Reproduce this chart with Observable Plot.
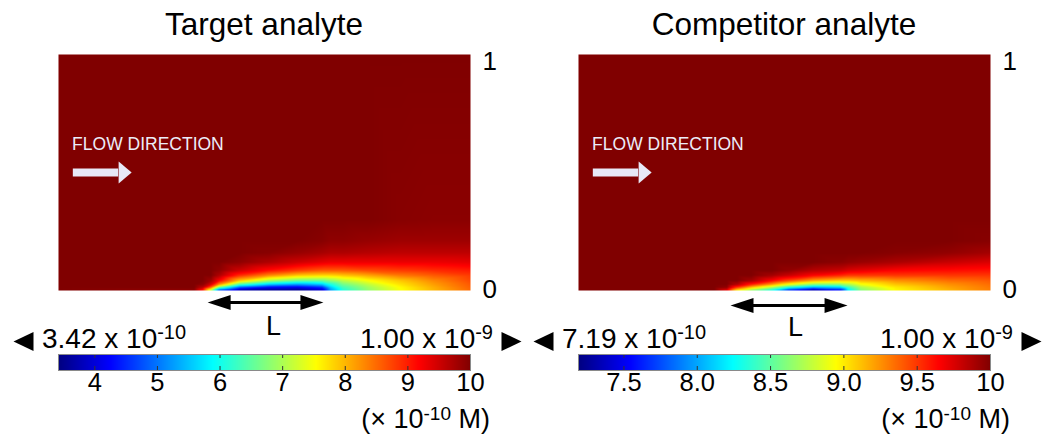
<!DOCTYPE html>
<html><head><meta charset="utf-8">
<script src="https://cdn.jsdelivr.net/npm/d3@7"></script>
<script src="https://cdn.jsdelivr.net/npm/@observablehq/plot@0.6"></script>
<style>
html,body{margin:0;padding:0;background:#fff;}
#chart{position:relative;width:1042px;height:436px;overflow:hidden;font-family:"Liberation Sans",Arial,sans-serif;color:#000;}
.abs{position:absolute;white-space:nowrap;line-height:1;}
.sup{position:relative;}
</style></head><body><div id="chart"></div>
<script>
// ---------- data (concentration, ×10^-10 M) ----------
const heights = [0, 0.013, 0.025, 0.042, 0.064, 0.085, 0.12, 0.16, 0.21, 0.30, 1.0];

const targetX = [0, 0.33, 0.35, 0.37, 0.39, 0.44, 0.51, 0.58, 0.64, 0.66, 0.69, 0.75, 0.83, 0.91, 1.0];
const targetConc = [
  [10, 9.9, 9.0, 7.0, 4.6, 3.6, 3.45, 3.45, 3.9, 5.2, 6.1, 6.8, 7.5, 8.0, 8.5],
  [10, 10, 9.6, 8.5, 6.5, 4.8, 4.2, 4.1, 4.5, 5.5, 6.3, 6.9, 7.55, 8.05, 8.55],
  [10, 10, 9.9, 9.4, 8.2, 6.3, 5.5, 5.2, 5.5, 6.0, 6.6, 7.1, 7.7, 8.15, 8.6],
  [10, 10, 10, 9.8, 9.2, 7.9, 7.0, 6.6, 6.6, 6.8, 7.1, 7.5, 7.9, 8.3, 8.7],
  [10, 10, 10, 10, 9.7, 8.9, 8.3, 7.9, 7.8, 7.8, 7.9, 8.1, 8.4, 8.6, 8.8],
  [10, 10, 10, 10, 9.9, 9.5, 9.1, 8.8, 8.6, 8.6, 8.6, 8.7, 8.8, 8.9, 9.0],
  [10, 10, 10, 10, 10, 9.9, 9.7, 9.5, 9.35, 9.3, 9.3, 9.3, 9.3, 9.3, 9.35],
  [10, 10, 10, 10, 10, 10, 9.95, 9.85, 9.75, 9.7, 9.7, 9.65, 9.6, 9.6, 9.6],
  [10, 10, 10, 10, 10, 10, 10, 10, 9.95, 9.9, 9.9, 9.85, 9.8, 9.8, 9.8],
  [10, 10, 10, 10, 10, 10, 10, 10, 10, 10, 10, 10, 9.95, 9.93, 9.93],
  [10, 10, 10, 10, 10, 10, 10, 10, 10, 10, 10, 10, 10, 10, 10]
];

const competitorX = [0, 0.33, 0.36, 0.385, 0.42, 0.47, 0.51, 0.57, 0.635, 0.655, 0.685, 0.77, 0.9, 1.0];
const competitorConc = [
  [10, 10, 9.7, 8.95, 8.6, 8.25, 7.6, 7.2, 7.5, 8.2, 8.6, 8.95, 9.15, 9.3],
  [10, 10, 9.95, 9.5, 9.1, 8.7, 8.3, 8.0, 8.1, 8.4, 8.7, 9.0, 9.2, 9.32],
  [10, 10, 10, 9.85, 9.55, 9.2, 8.9, 8.6, 8.6, 8.7, 8.9, 9.1, 9.25, 9.35],
  [10, 10, 10, 10, 9.9, 9.65, 9.45, 9.2, 9.1, 9.1, 9.15, 9.25, 9.35, 9.4],
  [10, 10, 10, 10, 10, 9.9, 9.8, 9.65, 9.55, 9.5, 9.5, 9.5, 9.5, 9.5],
  [10, 10, 10, 10, 10, 10, 9.95, 9.85, 9.8, 9.75, 9.72, 9.65, 9.62, 9.6],
  [10, 10, 10, 10, 10, 10, 10, 10, 9.97, 9.95, 9.93, 9.88, 9.8, 9.75],
  [10, 10, 10, 10, 10, 10, 10, 10, 10, 10, 10, 9.98, 9.95, 9.9],
  [10, 10, 10, 10, 10, 10, 10, 10, 10, 10, 10, 10, 10, 9.98],
  [10, 10, 10, 10, 10, 10, 10, 10, 10, 10, 10, 10, 10, 10],
  [10, 10, 10, 10, 10, 10, 10, 10, 10, 10, 10, 10, 10, 10]
];

const titles = ["Target analyte", "Competitor analyte"];
const colorRanges = [[3.42, 10], [7.19, 10]];
const minLabels = [["3.42 x 10", "-10"], ["7.19 x 10", "-10"]];
const maxLabels = [["1.00 x 10", "-9"], ["1.00 x 10", "-9"]];
const unitLabel = ["(× 10", "-10", " M)"];
const targetTicks = [4, 5, 6, 7, 8, 9, 10];
const targetTickLabels = ["4", "5", "6", "7", "8", "9", "10"];
const competitorTicks = [7.5, 8, 8.5, 9, 9.5, 10];
const competitorTickLabels = ["7.5", "8.0", "8.5", "9.0", "9.5", "10"];
const yTicks = [0, 1];
const flowText = "FLOW DIRECTION";
const lArrows = [[0.362, 0.643], [0.369, 0.653]];

// ---------- annotation placement (layout) ----------
const flowArrow = {x1: 0.036, x2: 0.146, y: 0.5, textX: 0.033, textY: 0.619};
const lArrowY = [-0.051, -0.064];
const lLabelPos = [[0.522, -0.153], [0.527, -0.155]];

const jetStops = [0, 0.125, 0.375, 0.625, 0.875, 1];
const jetColors = ["#000080", "#0000ff", "#00ffff", "#ffff00", "#ff0000", "#800000"];
const jet = ([lo, hi]) => ({type: "linear", domain: jetStops.map(t => lo + t * (hi - lo)), range: jetColors, clamp: true});

const FONT = '"Liberation Sans", Arial, sans-serif';
const W = 412, H = 236;
const panelLeft = [58, 578];
const panelTop = 54;
const chart = document.getElementById("chart");

function place(node, left, top, width) {
  const d = document.createElement("div");
  d.className = "abs";
  d.style.left = left + "px"; d.style.top = top + "px";
  if (width) d.style.width = width + "px";
  d.appendChild(node);
  chart.appendChild(d);
  return d;
}

function heatmap(p) {
  const xs = p === 0 ? targetX : competitorX;
  const rows = p === 0 ? targetConc : competitorConc;
  const points = rows.flatMap((row, i) => row.map((v, j) => ({x: xs[j], y: heights[i], v})));
  const spike = {shape: "spike", fill: "#000", stroke: "none"};
  return Plot.plot({
    width: W + 60, height: H + 60,
    marginLeft: 0, marginTop: 0, marginRight: 60, marginBottom: 60,
    style: {background: "transparent", overflow: "visible", fontFamily: FONT},
    x: {domain: [0, 1], axis: null},
    y: {domain: [0, 1], axis: null},
    color: jet(colorRanges[p]),
    marks: [
      Plot.raster(points, {x: "x", y: "y", fill: "v", interpolate: "barycentric", x1: 0, y1: 0, x2: 1, y2: 1}),
      Plot.text(yTicks.filter(d => d === 1), {y: d => d, text: d => String(d), frameAnchor: "right", dx: 12, dy: 7, textAnchor: "start", fontSize: 26, fill: "#000"}),
      Plot.text(yTicks.filter(d => d === 0), {y: d => d, text: d => String(d), frameAnchor: "right", dx: 12, dy: -1, textAnchor: "start", fontSize: 26, fill: "#000"}),
      Plot.text([flowText], {x: flowArrow.textX, y: flowArrow.textY, text: d => d, textAnchor: "start", fill: "#ececf8", fontSize: 17.5}),
      Plot.ruleY([flowArrow.y], {x1: flowArrow.x1, x2: flowArrow.x2, stroke: "#e8e8f6", strokeWidth: 8}),
      Plot.vector([flowArrow], {x: "x2", y: "y", rotate: 90, anchor: "start", length: 13, r: 11, shape: "spike", fill: "#e8e8f6", stroke: "none"}),
      Plot.ruleY([lArrowY[p]], {x1: lArrows[p][0] + 0.03, x2: lArrows[p][1] - 0.03, stroke: "#000", strokeWidth: 3}),
      Plot.vector([lArrows[p][0]], {x: d => d, y: lArrowY[p], rotate: -90, anchor: "end", length: 23, r: 7.5, ...spike}),
      Plot.vector([lArrows[p][1]], {x: d => d, y: lArrowY[p], rotate: 90, anchor: "end", length: 23, r: 7.5, ...spike}),
      Plot.text(["L"], {x: lLabelPos[p][0], y: lLabelPos[p][1], text: d => d, fontSize: 27, fill: "#000"})
    ]
  });
}

function colorbar(p) {
  const [lo, hi] = colorRanges[p];
  const ticks = p === 0 ? targetTicks : competitorTicks;
  const labels = p === 0 ? targetTickLabels : competitorTickLabels;
  const inner = ticks.filter(t => t < hi);
  const spike = {shape: "spike", fill: "#000", stroke: "none", length: 20, r: 9.5, anchor: "end"};
  return Plot.plot({
    width: W + 58 + 62, height: 16 + 30 + 50,
    marginLeft: 58, marginRight: 62, marginTop: 30, marginBottom: 50,
    style: {background: "transparent", overflow: "visible", fontFamily: FONT},
    x: {domain: [lo, hi], axis: null},
    y: {domain: [0, 1], axis: null},
    color: jet(colorRanges[p]),
    marks: [
      Plot.raster({fill: (x, y) => x, x1: lo, x2: hi, y1: 0, y2: 1}),
      Plot.ruleX(inner, {x: d => d, y1: 0, y2: 0.25, stroke: "#333", strokeWidth: 1}),
      Plot.ruleX(inner, {x: d => d, y1: 0.75, y2: 1, stroke: "#333", strokeWidth: 1}),
      Plot.frame({stroke: "#8a8a8a"}),
      Plot.text(ticks, {x: d => d, text: (d, i) => labels[i], frameAnchor: "bottom", dy: 20, fontSize: 25.5, fill: "#000"}),
      Plot.vector([0], {frameAnchor: "top-left", dx: -45, dy: -13, rotate: -90, ...spike}),
      Plot.vector([0], {frameAnchor: "top-right", dx: 51, dy: -13, rotate: 90, ...spike})
    ]
  });
}

function supText(parts, size, supSize, raise) {
  const span = document.createElement("span");
  span.style.fontSize = size + "px";
  parts.forEach((t, i) => {
    const s = document.createElement("span");
    s.textContent = t;
    if (i === 1) { s.className = "sup"; s.style.fontSize = supSize + "px"; s.style.top = (-raise) + "px"; }
    span.appendChild(s);
  });
  return span;
}

for (let p = 0; p < 2; p++) {
  const L = panelLeft[p];
  // title
  const t = document.createElement("span");
  t.textContent = titles[p]; t.style.fontSize = "31.5px";
  const td = place(t, L, 9, W); td.style.textAlign = "center";
  // heatmap
  place(heatmap(p), L, panelTop, W + 60);
  // colorbar
  place(colorbar(p), L - 58, 324, W + 120);
  // end labels
  place(supText(minLabels[p], 28, 20, 9), L - 16, 325);
  const mx = place(supText(maxLabels[p], 28, 20, 9), 0, 325);
  mx.style.left = ""; mx.style.right = (1042 - (L + W + 23)) + "px";
  const un = place(supText(unitLabel, 27, 19, 8), 0, 406);
  un.style.left = ""; un.style.right = (1042 - (L + W + 20)) + "px";
}
</script></body></html>
